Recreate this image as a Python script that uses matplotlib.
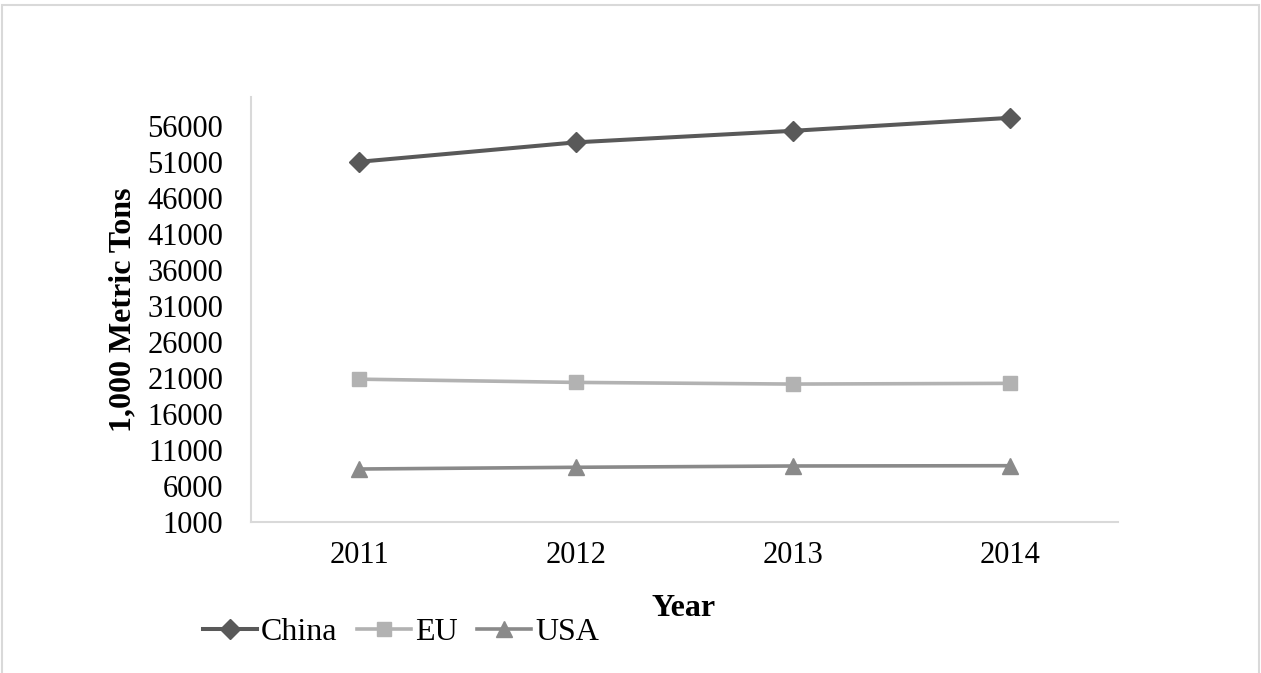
import matplotlib
matplotlib.use("Agg")
import matplotlib.pyplot as plt
from matplotlib.patches import Rectangle

# production, 1,000 metric tons
years = ["2011", "2012", "2013", "2014"]
china = [51000, 53700, 55300, 57100]
eu = [20800, 20350, 20120, 20220]
usa = [8320, 8560, 8740, 8780]
yticks = list(range(1000, 56001, 5000))

plt.rcParams["font.family"] = ["Liberation Serif", "DejaVu Serif"]

fig = plt.figure(figsize=(12.61, 6.73), dpi=100)
ax = fig.add_axes([0.199, 0.2248, 0.6876, 0.6311])

x = range(len(years))
ax.plot(x, china, "-D", color="#595959", linewidth=2.9, markersize=10, label="China")
ax.plot(x, eu, "-s", color="#b2b2b2", linewidth=2.6, markersize=9.5, label="EU")
ax.plot(x, usa, "-^", color="#8a8a8a", linewidth=2.6, markersize=11, label="USA")

ax.set_xlim(-0.5, 3.5)
ax.set_ylim(1000, 60000)
ax.set_xticks(list(x))
ax.set_xticklabels(years)
ax.set_yticks(yticks)
ax.set_yticklabels([str(v) for v in yticks])
ax.tick_params(axis="both", length=0, labelsize=22)
ax.tick_params(axis="y", pad=20)
ax.tick_params(axis="x", pad=14)

for side in ["top", "right"]:
    ax.spines[side].set_visible(False)
for side in ["left", "bottom"]:
    ax.spines[side].set_color("#d9d9d9")
    ax.spines[side].set_linewidth(1.5)

ax.set_xlabel("Year", fontsize=23, fontweight="bold")
ax.set_ylabel("1,000 Metric Tons", fontsize=23, fontweight="bold", labelpad=7)
ax.xaxis.set_label_coords(0.499, -0.17)

fig.legend(loc="center left", bbox_to_anchor=(0.161, 0.06), ncol=3, frameon=False,
           fontsize=23, handlelength=1.7, handletextpad=0.12, columnspacing=0.6,
           borderpad=0, borderaxespad=0)

# light frame around the chart area
fig.patches.append(Rectangle((2 / 1261, -0.05), 1 - 4 / 1261, 1.05 - 5 / 673,
                             transform=fig.transFigure, fill=False,
                             edgecolor="#d9d9d9", linewidth=1.5))

fig.savefig("out.png", dpi=100)
